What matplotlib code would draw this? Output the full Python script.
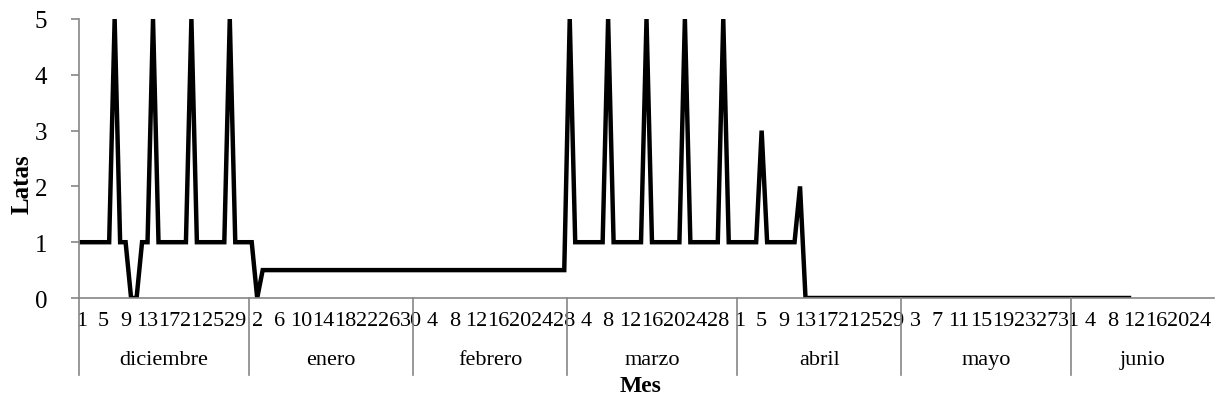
#!/usr/bin/python
# -*- encoding: utf-8 -*-
import matplotlib
matplotlib.use('Agg')
import matplotlib.pyplot as plt
import matplotlib.transforms as mtransforms
import numpy as np

# months and number of days shown on the category axis
meses = ['diciembre', 'enero', 'febrero', 'marzo', 'abril', 'mayo', 'junio']
dias_mes = [31, 30, 28, 31, 30, 31, 26]

# Latas per day (None = no data)
latas_diciembre = [1, 1, 1, 1, 1, 1, 5, 1, 1, 0, 0, 1, 1, 5, 1, 1, 1, 1, 1, 1,
                   5, 1, 1, 1, 1, 1, 1, 5, 1, 1, 1]
latas_enero = [1, 0] + [0.5] * 28
latas_febrero = [0.5] * 28
latas_marzo = [5, 1, 1, 1, 1, 1, 1, 5, 1, 1, 1, 1, 1, 1, 5, 1, 1, 1, 1, 1,
               1, 5, 1, 1, 1, 1, 1, 1, 5, 1, 1]
latas_abril = [1, 1, 1, 1, 3, 1, 1, 1, 1, 1, 1, 2] + [0] * 18
latas_mayo = [0] * 31
latas_junio = [0] * 11 + [None] * 15

valores = (latas_diciembre + latas_enero + latas_febrero + latas_marzo +
           latas_abril + latas_mayo + latas_junio)
y = np.array([np.nan if v is None else v for v in valores], dtype=float)

# day numbers for every category
dias = []
for n in dias_mes:
  dias += list(range(1, n + 1))
x = np.arange(len(dias))

plt.rcParams['font.family'] = 'Liberation Serif'
plt.rcParams['font.size'] = 16

fig = plt.figure(figsize=(12.17, 4.06), dpi=100)
ax = fig.add_axes([79 / 1217., 1 - 299 / 406., (1214 - 79) / 1217., 279 / 406.])

ax.plot(x, y, color='black', linewidth=3.2, solid_joinstyle='miter')

ax.set_xlim(-0.5, len(dias) - 0.5)
ax.set_ylim(0, 5)
ax.set_yticks([0, 1, 2, 3, 4, 5])

# every 4th day labeled
ax.set_xticks(x[::4])
ax.set_xticklabels([str(d) for d in dias[::4]])

gris = '#868686'
for s in ['top', 'right']:
  ax.spines[s].set_visible(False)
for s in ['left', 'bottom']:
  ax.spines[s].set_color(gris)
  ax.spines[s].set_linewidth(1.2)
ax.tick_params(axis='x', length=0, pad=9)
ax.tick_params(axis='y', length=6, width=1.2, color=gris, pad=17, labelsize=18)

# month groups below the day labels
trans = mtransforms.blended_transform_factory(ax.transData, ax.transAxes)
inicio = -0.5
for mes, n in zip(meses, dias_mes):
  ax.plot([inicio, inicio], [0, -0.275], color=gris, linewidth=1.2,
          transform=trans, clip_on=False)
  ax.text(inicio + n / 2.0, -0.22, mes, transform=trans,
          ha='center', va='center')
  inicio += n

fig.text(641 / 1217., 1 - 387 / 406., 'Mes', fontweight='bold', fontsize=17,
         ha='center', va='center')
fig.text(22 / 1217., 1 - 184 / 406., 'Latas', fontweight='bold', fontsize=18,
         rotation=90, ha='center', va='center')

plt.savefig('out.png', dpi=100)
plt.close()
